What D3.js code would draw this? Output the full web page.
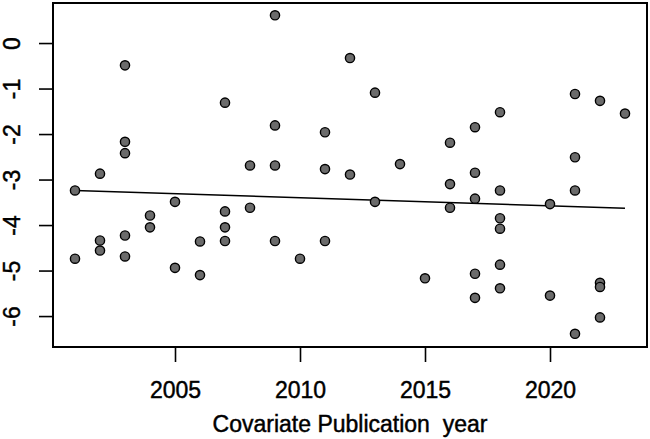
<!DOCTYPE html>
<html>
<head>
<meta charset="utf-8">
<script src="https://cdn.jsdelivr.net/npm/d3@7"></script>
<style>
	body { margin: 0; background: #fff; }
	text { font-family: "Liberation Sans", Arial, sans-serif; fill: #000; stroke: #000; stroke-width: 0.45px; }
</style>
</head>
<body>
<svg id="chart"></svg>
<script>
// publication year and effect of each study
var pubYear = [
	2001, 2001,
	2002, 2002, 2002,
	2003, 2003, 2003, 2003, 2003,
	2004, 2004,
	2005, 2005,
	2006, 2006,
	2007, 2007, 2007, 2007,
	2008, 2008,
	2009, 2009, 2009, 2009,
	2010,
	2011, 2011, 2011,
	2012, 2012,
	2013, 2013,
	2014,
	2015,
	2016, 2016, 2016,
	2017, 2017, 2017, 2017, 2017,
	2018, 2018, 2018, 2018, 2018, 2018,
	2020, 2020,
	2021, 2021, 2021, 2021,
	2022, 2022, 2022, 2022,
	2023
];
var effect = [
	-3.24, -4.74,
	-2.87, -4.34, -4.56,
	-0.49, -2.17, -2.42, -4.23, -4.69,
	-3.79, -4.05,
	-3.49, -4.94,
	-4.36, -5.10,
	-1.31, -3.70, -4.05, -4.35,
	-2.69, -3.62,
	0.61, -1.81, -2.69, -4.35,
	-4.74,
	-1.96, -2.77, -4.35,
	-0.33, -2.89,
	-1.09, -3.49,
	-2.66,
	-5.17,
	-2.19, -3.10, -3.62,
	-1.85, -2.85, -3.42, -5.07, -5.60,
	-1.52, -3.24, -3.85, -4.08, -4.87, -5.39,
	-3.54, -5.55,
	-1.12, -2.51, -3.24, -6.39,
	-1.27, -5.27, -5.36, -6.03,
	-1.55
];

// fitted regression line, read at its two ends
var fitYears = [2001, 2023];
var fitValues = [-3.24, -3.63];

var xTicks = [2005, 2010, 2015, 2020];
var yTicks = [0, -1, -2, -3, -4, -5, -6];

var width = 650;
var height = 439;
var plotLeft = 53, plotRight = 647, plotTop = 3, plotBottom = 347;

var svg = d3.select("#chart")
	.attr("width", width)
	.attr("height", height);

var xScale = d3.scaleLinear()
	.domain([2000.12, 2023.88])
	.range([plotLeft, plotRight]);

var yScale = d3.scaleLinear()
	.domain([-6.68, 0.88])
	.range([plotBottom, plotTop]);

// plain hyphen minus like R
var plainFormat = function(d) { return String(d); };

// X Axis
var xAxis = d3.axisBottom(xScale)
	.tickValues(xTicks)
	.tickSize(15)
	.tickFormat(plainFormat);

var gx = svg.append("g")
	.attr("transform", "translate(0," + plotBottom + ")")
	.call(xAxis);
gx.select(".domain").remove();
gx.selectAll("line").attr("stroke", "#000").attr("stroke-width", 1.6);
gx.selectAll("text")
	.style("font-size", "23px")
	.attr("dy", null)
	.attr("y", 51);

// Y Axis
var yAxis = d3.axisLeft(yScale)
	.tickValues(yTicks)
	.tickSize(14)
	.tickFormat(plainFormat);

var gy = svg.append("g")
	.attr("transform", "translate(" + plotLeft + ",0)")
	.call(yAxis);
gy.select(".domain").remove();
gy.selectAll("line").attr("stroke", "#000").attr("stroke-width", 1.6);
gy.selectAll("text")
	.style("font-size", "23px")
	.attr("x", null)
	.attr("y", null)
	.attr("dy", null)
	.attr("text-anchor", "middle")
	.attr("transform", "translate(-33,0)rotate(-90)");

// frame
svg.append("rect")
	.attr("x", plotLeft)
	.attr("y", plotTop)
	.attr("width", plotRight - plotLeft)
	.attr("height", plotBottom - plotTop)
	.attr("fill", "none")
	.attr("stroke", "#000")
	.attr("stroke-width", 2);

svg.append("text")
	.attr("x", (plotLeft + plotRight) / 2)
	.attr("y", 432)
	.attr("text-anchor", "middle")
	.style("font-size", "23px")
	.style("white-space", "pre")
	.text("Covariate Publication  year");

// regression line
var fit = fitYears.map(function(d, i) { return [d, fitValues[i]]; });
svg.append("path")
	.datum(fit)
	.attr("fill", "none")
	.attr("stroke", "#000")
	.attr("stroke-width", 1.5)
	.attr("d", d3.line()
		.x(function(d) { return xScale(d[0]); })
		.y(function(d) { return yScale(d[1]); }));

// points
svg.selectAll("circle.pt")
	.data(pubYear)
	.enter()
	.append("circle")
		.attr("class", "pt")
		.attr("cx", function(d) { return xScale(d); })
		.attr("cy", function(d, i) { return yScale(effect[i]); })
		.attr("r", 4.6)
		.attr("fill", "#6b6b6b")
		.attr("stroke", "#000")
		.attr("stroke-width", 1.4);
</script>
</body>
</html>
